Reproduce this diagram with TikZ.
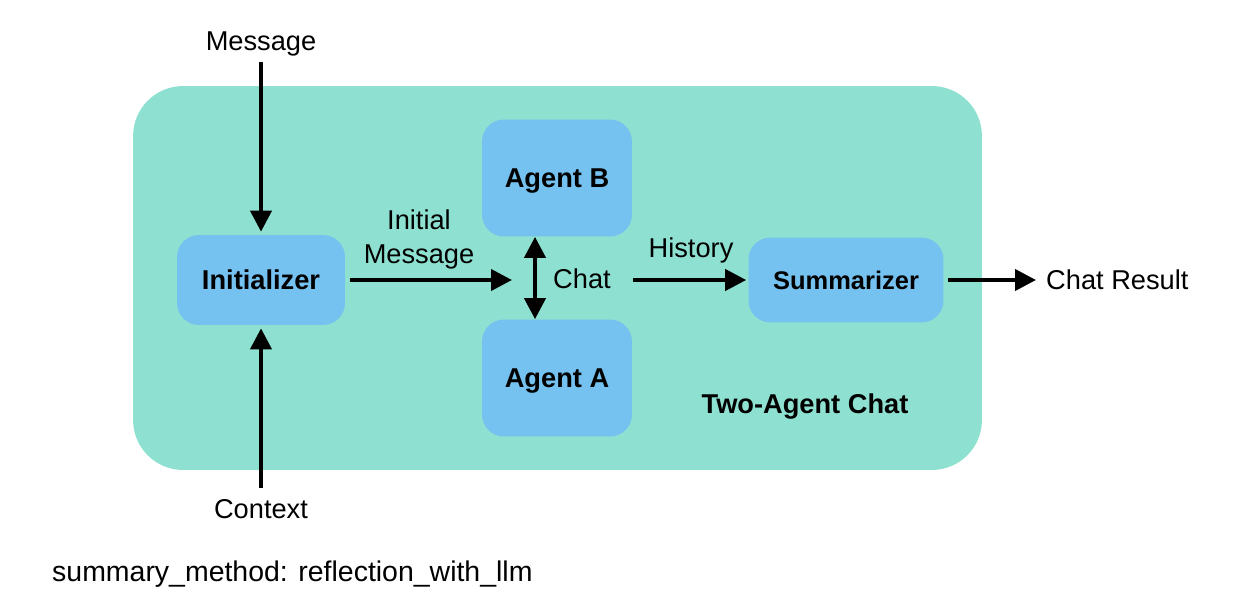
\documentclass[tikz,border=0pt]{standalone}
\usepackage{fontspec}
\setmainfont{Liberation Sans}
\usepackage{tikz}
\usetikzlibrary{positioning}
\usetikzlibrary{shapes,arrows.meta,backgrounds}
\definecolor{chatbg}{RGB}{142,225,209}
\definecolor{agentblue}{RGB}{117,193,239}
\tikzstyle{line} = [draw, line width=0.08cm, -{Triangle[length=0.42cm,width=0.42cm]}]
\tikzstyle{dline} = [draw, line width=0.08cm, {Triangle[length=0.42cm,width=0.42cm]}-{Triangle[length=0.42cm,width=0.42cm]}]
\tikzstyle{agent} = [rounded corners=0.44cm, fill=agentblue, text depth=0pt, font=\fontsize{15.5}{19}\selectfont\bfseries, align=center]
\tikzstyle{lbl} = [font=\fontsize{15.5}{19}\selectfont, text depth=0pt, align=center]

\begin{document}
\begin{tikzpicture}[x=0.02cm, y=-0.02cm]
	\useasboundingbox (0,0) rectangle (1250,602);
	\node[rounded corners=1cm, fill=chatbg, minimum width=16.98cm, minimum height=7.68cm] (twochat) at (557.5,278) {};
	\node[agent, minimum width=3.36cm, minimum height=1.8cm] (init) at (261,280) {Initializer};
	\node[agent, minimum width=3cm, minimum height=2.34cm] (agentb) at (557,178) {Agent B};
	\node[agent, minimum width=3cm, minimum height=2.34cm] (agenta) at (557,378) {Agent A};
	\node[agent, minimum width=3.9cm, minimum height=1.7cm, font=\fontsize{14.5}{18}\selectfont\bfseries] (summ) at (846,280) {Summarizer};
	\node[font=\fontsize{15.5}{19}\selectfont\bfseries, text depth=0pt] (title) at (805,404) {Two-Agent Chat};
	
	\node[lbl] (msg) at (261,41) {Message};
	\node[lbl] (ctx) at (261,509) {Context};
	\node[lbl] (initmsg) at (419,236.5) {Initial\\Message};
	\node[lbl] (chatlbl) at (582,279) {Chat};
	\node[lbl] (hist) at (691,248) {History};
	\node[lbl, anchor=west] (res) at (1040,280) {Chat Result};
	\node[lbl, anchor=west, font=\fontsize{16.2}{19}\selectfont] (method) at (46,571) {summary\_method: reflection\_with\_llm};
	\coordinate (chatin) at (512,280);
	\coordinate (chatout) at (633,280);
	
	\path[line, shorten <=0.1cm, shorten >=0.06cm] (msg.south) -- (init.north);
	\path[line, shorten <=0.1cm, shorten >=0.06cm] (ctx.north) -- (init.south);
	\path[line, shorten <=0.1cm] (init.east) -- (chatin);
	\path[dline] ([xshift=-0.44cm]agentb.south) -- ([xshift=-0.44cm]agenta.north);
	\path[line, shorten >=0.04cm] (chatout) -- (summ.west);
	\path[line, shorten <=0.08cm, shorten >=0.08cm] (summ.east) -- (res.west);
\end{tikzpicture}
\end{document}
